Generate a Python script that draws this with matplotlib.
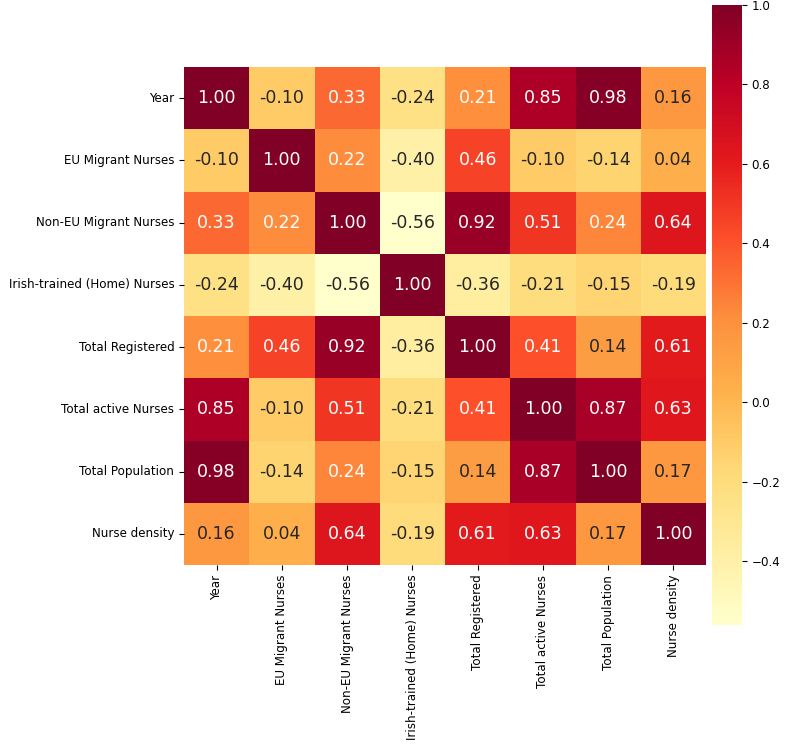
import numpy as np
import pandas as pd
import seaborn as sns
from matplotlib import pyplot as plt

labels = ["Year", "EU Migrant Nurses", "Non-EU Migrant Nurses",
          "Irish-trained (Home) Nurses", "Total Registered",
          "Total active Nurses", "Total Population", "Nurse density"]

year = [1.00, -0.10, 0.33, -0.24, 0.21, 0.85, 0.98, 0.16]
eu = [-0.10, 1.00, 0.22, -0.40, 0.46, -0.10, -0.14, 0.04]
non_eu = [0.33, 0.22, 1.00, -0.56, 0.92, 0.51, 0.24, 0.64]
irish = [-0.24, -0.40, -0.56, 1.00, -0.36, -0.21, -0.15, -0.19]
registered = [0.21, 0.46, 0.92, -0.36, 1.00, 0.41, 0.14, 0.61]
active = [0.85, -0.10, 0.51, -0.21, 0.41, 1.00, 0.87, 0.63]
population = [0.98, -0.14, 0.24, -0.15, 0.14, 0.87, 1.00, 0.17]
density = [0.16, 0.04, 0.64, -0.19, 0.61, 0.63, 0.17, 1.00]

corr = pd.DataFrame([year, eu, non_eu, irish, registered, active, population, density],
                    index=labels, columns=labels)

fig = plt.figure(figsize=(7.89, 7.49), dpi=100)
ax = fig.add_axes([184 / 789, 1 - 565 / 749, 522 / 789, 498 / 749])
cax = fig.add_axes([712 / 789, 1 - 625 / 749, 30 / 789, 620 / 749])

sns.heatmap(corr, annot=True, fmt=".2f", cmap="YlOrRd", ax=ax, cbar_ax=cax,
            annot_kws={"size": 12.5})
ax.tick_params(labelsize=8.6)
cax.tick_params(labelsize=8.6)
cax.set_yticks([-0.4, -0.2, 0.0, 0.2, 0.4, 0.6, 0.8, 1.0])

fig.savefig("out.png", dpi=100)
